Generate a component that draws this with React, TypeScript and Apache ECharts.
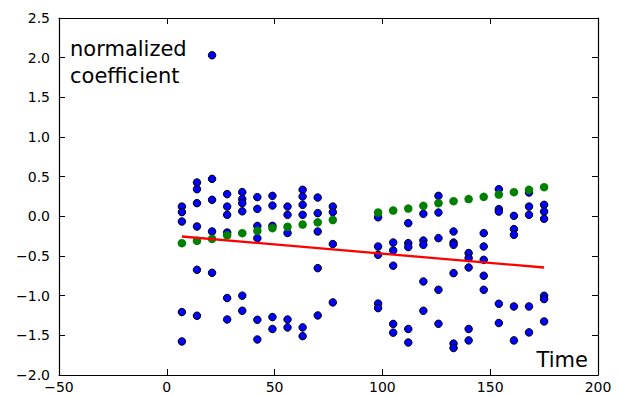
import React, { useEffect, useRef } from "react";
import * as echarts from "echarts";

// Time steps at which the blue samples were taken
const timeSteps = [7, 14, 21, 28, 35, 42, 49, 56, 63, 70, 77, 98, 105, 112, 119, 126, 133, 140, 147, 154, 161, 168, 175];

// Blue sample values, one list per time step
const blueValues = [
  [0.123, 0.053, -0.065, -1.207, -1.577],
  [0.426, 0.342, 0.166, -0.128, -0.674, -1.253],
  [2.03, 0.472, 0.208, -0.191, -0.712],
  [0.28, 0.123, 0.019, -0.204, -1.03, -1.3],
  [0.305, 0.217, 0.166, 0.063, -1.0, -1.19],
  [0.242, 0.094, -0.121, -0.275, -1.304, -1.552],
  [0.258, 0.136, -0.12, -1.27, -1.42],
  [0.123, 0.019, -0.21, -1.3, -1.4],
  [0.334, 0.25, 0.145, 0.019, -1.4, -1.51],
  [0.237, 0.04, -0.191, -0.653, -1.249],
  [0.123, 0.053, -0.35, -1.085],
  [-0.012, -0.38, -0.485, -1.1, -1.157],
  [-0.33, -0.43, -0.622, -1.356, -1.466],
  [-0.086, -0.338, -0.388, -1.42, -1.59],
  [0.032, -0.305, -0.359, -0.821, -1.19],
  [0.258, 0.048, -0.275, -0.926, -1.354],
  [-0.191, -0.33, -0.359, -0.716, -1.604, -1.66],
  [-0.463, -0.526, -0.645, -1.42, -1.564],
  [-0.212, -0.38, -0.548, -0.749, -0.926],
  [0.342, 0.091, 0.06, -1.102, -1.345],
  [0.006, -0.161, -0.233, -1.136, -1.564],
  [0.3, 0.123, 0.019, -1.136, -1.463],
  [0.145, 0.06, -0.031, -1.001, -1.043, -1.325],
];

// Green (normalized coefficient) series
const greenTimes = [7, 14, 21, 28, 35, 42, 49, 56, 63, 70, 77, 98, 105, 112, 119, 126, 133, 140, 147, 154, 161, 168, 175];
const greenValues = [-0.338, -0.309, -0.285, -0.24, -0.212, -0.183, -0.149, -0.132, -0.103, -0.076, -0.046, 0.048, 0.073, 0.098, 0.132, 0.166, 0.191, 0.217, 0.246, 0.275, 0.305, 0.334, 0.368];

// Red trend line end points
const trendTimes = [7, 175];
const trendValues = [-0.254, -0.645];

// Axis ranges / ticks
const xRange = [-50, 200];
const xStep = 50;
const yRange = [-2.0, 2.5];
const yStep = 0.5;

const FONT = "DejaVu Sans";

export default function App() {
  const ref = useRef<HTMLDivElement>(null);

  useEffect(() => {
    if (!ref.current) return;
    const chart = echarts.init(ref.current, undefined, { renderer: "svg" });

    const blueData: number[][] = [];
    timeSteps.forEach((t, i) => {
      blueValues[i].forEach((v) => blueData.push([t, v]));
    });
    const greenData = greenTimes.map((t, i) => [t, greenValues[i]]);
    const trendData = trendTimes.map((t, i) => [t, trendValues[i]]);

    const fmtX = (v: number) => String(v).replace("-", "\u2212");
    const fmtY = (v: number) => v.toFixed(1).replace("-", "\u2212");

    const tickStyle = { show: true, inside: true, length: 6, lineStyle: { color: "#000", width: 1 } };
    const lineStyle = { show: true, onZero: false, lineStyle: { color: "#000", width: 1.2 } };

    chart.setOption({
      animation: false,
      backgroundColor: "#fff",
      grid: { left: 59, top: 18, right: 20, bottom: 22, containLabel: false, outerBoundsMode: "none" },
      xAxis: [
        {
          type: "value",
          min: xRange[0],
          max: xRange[1],
          interval: xStep,
          position: "bottom",
          axisLine: lineStyle,
          axisTick: tickStyle,
          splitLine: { show: false },
          axisLabel: { formatter: fmtX, color: "#000", fontFamily: FONT, fontSize: 14, margin: 5 },
        },
        {
          type: "value",
          min: xRange[0],
          max: xRange[1],
          interval: xStep,
          position: "top",
          axisLine: lineStyle,
          axisTick: tickStyle,
          splitLine: { show: false },
          axisLabel: { show: false },
        },
      ],
      yAxis: [
        {
          type: "value",
          min: yRange[0],
          max: yRange[1],
          interval: yStep,
          position: "left",
          axisLine: lineStyle,
          axisTick: tickStyle,
          splitLine: { show: false },
          axisLabel: { formatter: fmtY, color: "#000", fontFamily: FONT, fontSize: 14, margin: 9 },
        },
        {
          type: "value",
          min: yRange[0],
          max: yRange[1],
          interval: yStep,
          position: "right",
          axisLine: lineStyle,
          axisTick: tickStyle,
          splitLine: { show: false },
          axisLabel: { show: false },
        },
      ],
      series: [
        {
          type: "scatter",
          data: blueData,
          symbol: "circle",
          symbolSize: 7.5,
          itemStyle: { color: "#0000ff", borderColor: "#000", borderWidth: 1, opacity: 1 },
          z: 2,
        },
        {
          type: "scatter",
          data: greenData,
          symbol: "circle",
          symbolSize: 8.5,
          itemStyle: { color: "#008000", opacity: 1 },
          z: 3,
        },
        {
          type: "line",
          data: trendData,
          showSymbol: false,
          lineStyle: { color: "#ff0000", width: 2.3 },
          z: 4,
        },
      ],
      graphic: [
        {
          type: "text",
          left: 70,
          top: 35,
          style: {
            text: "normalized\ncoefficient",
            font: `21px '${FONT}'`,
            fill: "#000",
            lineHeight: 27,
          },
        },
        {
          type: "text",
          right: 30,
          top: 349,
          style: {
            text: "Time",
            font: `21px '${FONT}'`,
            fill: "#000",
          },
        },
      ],
    });

    return () => chart.dispose();
  }, []);

  return (
    <div
      ref={ref}
      style={{ position: "fixed", left: 0, top: 0, width: 618, height: 397, background: "#fff" }}
    />
  );
}
